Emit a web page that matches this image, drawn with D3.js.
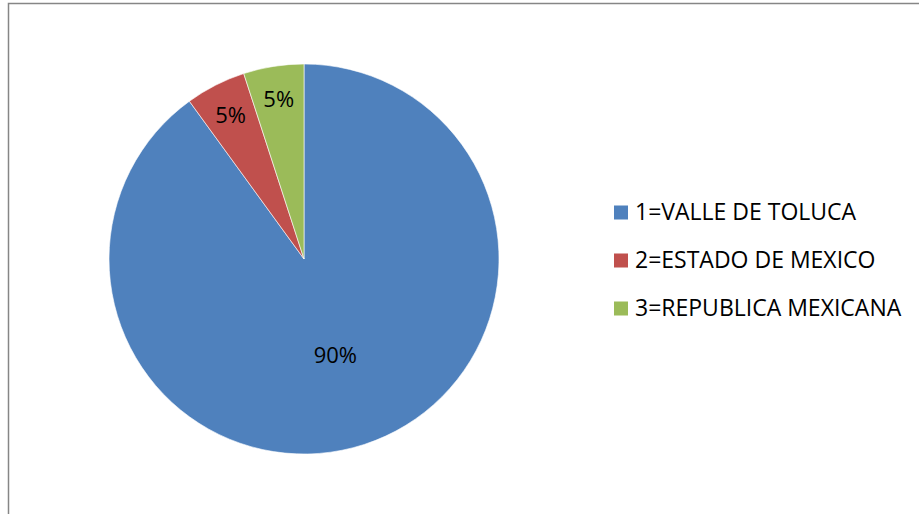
<!DOCTYPE html>
<html>
<head>
<meta charset="utf-8">
<script src="https://cdn.jsdelivr.net/npm/d3@7"></script>
<style>
  body { margin: 0; background: #fff; }
  svg { display: block; }
  text { font-family: 'Open Sans', sans-serif; fill: #000; }
</style>
</head>
<body>
<svg></svg>
<script>
var categories = ['1=VALLE DE TOLUCA', '2=ESTADO DE MEXICO', '3=REPUBLICA MEXICANA']
var values = [90, 5, 5]
var labels = ['90%', '5%', '5%']
var colors = ['#4F81BD', '#C0504D', '#9BBB59']

var width = 919, height = 514
var svg = d3.select('svg').attr('width', width).attr('height', height)

// chart frame (bottom / right run off the picture)
svg.append('path')
    .attr('d', 'M8.5,' + height + ' V3.5 H' + width)
    .attr('fill', 'none')
    .attr('stroke', '#868686')
    .attr('stroke-width', 1.5)

var cx = 304, cy = 259, r = 195

var pie = d3.pie().sort(null).value((d) => d)
var arcs = pie(values)

var arc = d3.arc().innerRadius(0).outerRadius(r)

var g = svg.append('g').attr('transform', 'translate(' + cx + ',' + cy + ')')

g.selectAll('path.slice')
    .data(arcs)
    .enter()
    .append('path')
    .attr('class', 'slice')
    .attr('d', arc)
    .attr('fill', (d, i) => colors[i])
    .attr('stroke', '#fff')
    .attr('stroke-width', 0.6)

g.selectAll('text.lbl')
    .data(arcs)
    .enter()
    .append('text')
    .attr('class', 'lbl')
    .attr('transform', (d) => {
        var lr = (d.endAngle - d.startAngle) > Math.PI ? 0.52 * r : 0.83 * r
        var p = d3.arc().innerRadius(lr).outerRadius(lr).centroid(d)
        return 'translate(' + p[0] + ',' + p[1] + ')'
    })
    .attr('text-anchor', 'middle')
    .attr('dy', '0.36em')
    .style('font-size', '22px')
    .text((d, i) => labels[i])

var legend = svg.append('g').attr('transform', 'translate(614,219.5)')

var rows = legend.selectAll('g')
    .data(categories)
    .enter()
    .append('g')
    .attr('transform', (d, i) => 'translate(0,' + (i * 48) + ')')

rows.append('rect')
    .attr('x', 0)
    .attr('y', -14)
    .attr('width', 14)
    .attr('height', 14)
    .attr('fill', (d, i) => colors[i])

rows.append('text')
    .attr('x', 21)
    .style('font-size', '23px')
    .text((d) => d)
</script>
</body>
</html>
